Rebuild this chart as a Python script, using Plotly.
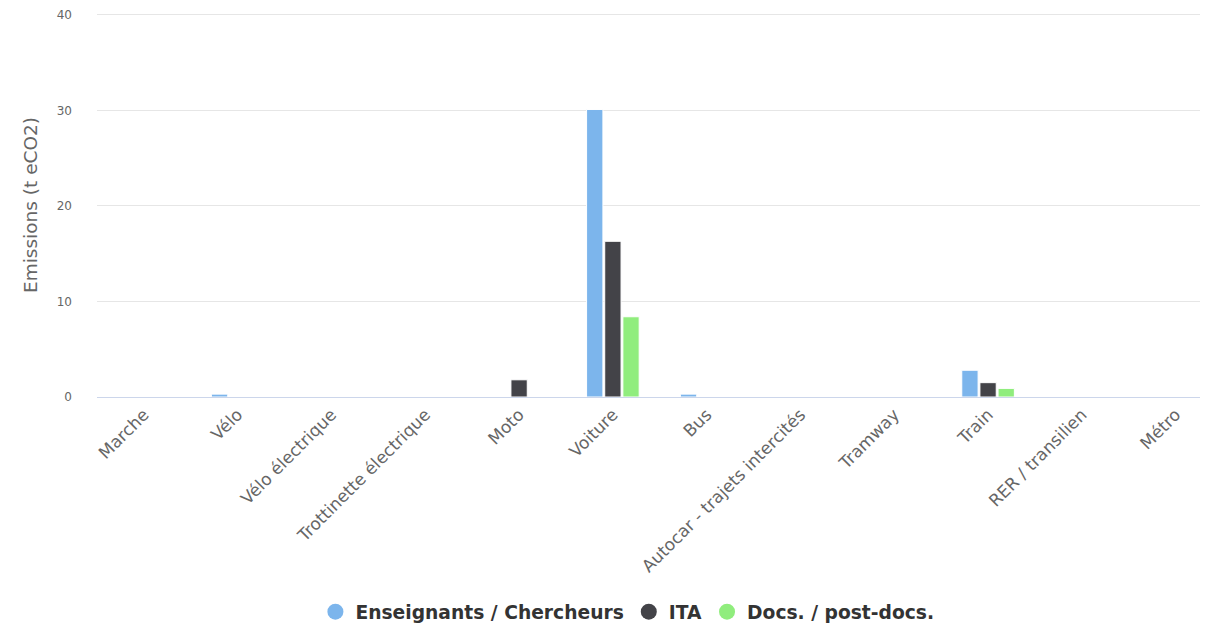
import plotly.graph_objects as go

# Catégories de transport
categories = ['Marche', 'Vélo', 'Vélo électrique', 'Trottinette électrique', 'Moto',
              'Voiture', 'Bus', 'Autocar - trajets intercités', 'Tramway', 'Train',
              'RER / transilien', 'Métro']

# Emissions (t eCO2) par statut
enseignants = [0, 0.3, 0, 0, 0, 30.1, 0.3, 0, 0, 2.8, 0, 0]
ita = [0, 0, 0, 0, 1.8, 16.3, 0, 0, 0, 1.5, 0, 0]
docs = [0, 0, 0, 0, 0, 8.4, 0, 0, 0, 0.9, 0, 0]

series = [
    ('Enseignants / Chercheurs', enseignants, '#7cb5ec'),
    ('ITA', ita, '#434348'),
    ('Docs. / post-docs.', docs, '#90ed7d'),
]

fig = go.Figure()
for nom, vals, couleur in series:
    fig.add_trace(go.Bar(
        x=categories, y=vals, name=nom,
        marker=dict(color=couleur, line=dict(color='white', width=1)),
        showlegend=False,
    ))
# entrées de légende en cercles
for nom, vals, couleur in series:
    fig.add_trace(go.Scatter(
        x=[None], y=[None], mode='markers', name=nom,
        marker=dict(color=couleur, symbol='circle', size=16),
    ))

fig.update_layout(
    width=1208, height=629,
    barmode='group', bargap=0.42, bargroupgap=0.1,
    margin=dict(l=89, r=0, t=5, b=240, autoexpand=False),
    paper_bgcolor='white',
    plot_bgcolor='white',
    font=dict(family='DejaVu Sans', size=13, color='#666666'),
    showlegend=True,
    legend=dict(
        orientation='h',
        xanchor='center', x=0.474,
        yanchor='middle', y=-0.56,
        font=dict(family='DejaVu Sans', size=18.7, color='#333333', weight='bold'),
    ),
)

fig.update_xaxes(
    range=[-0.5, 11.43], automargin=False,
    tickangle=-45, showgrid=False,
    showline=True, linecolor='#ccd6eb', linewidth=1,
    tickfont=dict(size=17, color='#666666'),
)

fig.update_yaxes(
    range=[0, 40.2], tickvals=[0, 10, 20, 30, 40], automargin=False,
    showgrid=True, gridcolor='#e6e6e6', gridwidth=1,
    zeroline=False, showline=False,
    ticklabelstandoff=24, ticklabeloverflow='allow',
    tickfont=dict(size=12, color='#666666'),
    title=dict(text='Emissions (t eCO2)', font=dict(size=18.5, color='#666666'), standoff=14),
)

fig.write_html("out.html")
